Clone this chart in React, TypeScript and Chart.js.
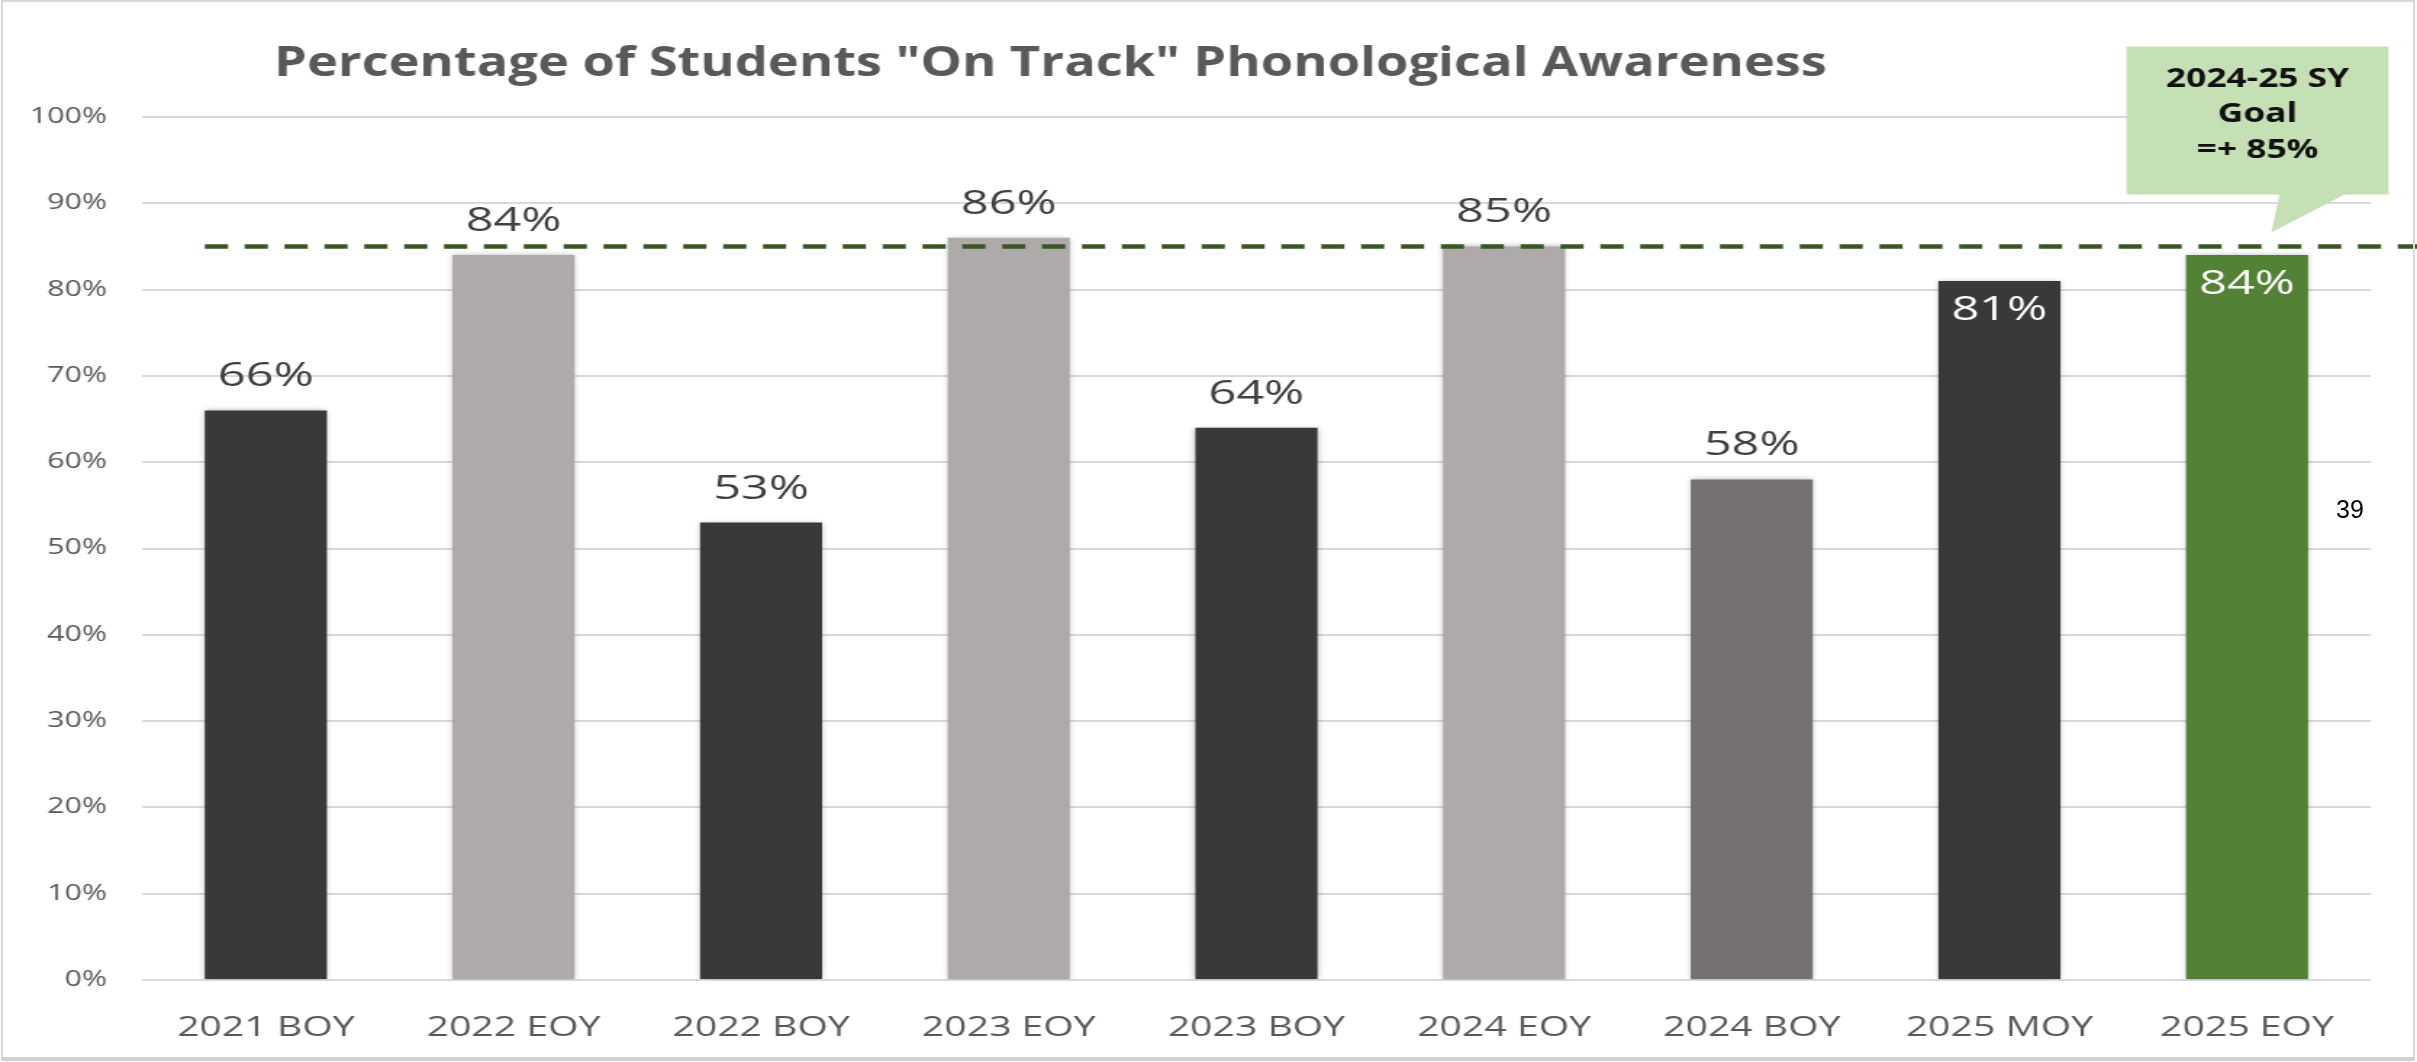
import React, { useEffect, useRef } from 'react';
import { Chart, registerables } from 'chart.js';

Chart.register(...registerables);

// ---------- data ----------
const categories = ['2021 BOY', '2022 EOY', '2022 BOY', '2023 EOY', '2023 BOY', '2024 EOY', '2024 BOY', '2025 MOY', '2025 EOY'];
const values = [66, 84, 53, 86, 64, 85, 58, 81, 84];
const barColors = ['#3B3838', '#AEAAAA', '#3B3838', '#AEAAAA', '#3B3838', '#AEAAAA', '#767171', '#3B3838', '#538135'];
const labelInside = [false, false, false, false, false, false, false, true, true];
const yTickValues = [0, 10, 20, 30, 40, 50, 60, 70, 80, 90, 100];
const goalValue = 85;
const titleText = 'Percentage of Students "On Track" Phonological Awareness';
const calloutLines = ['2024-25 SY', 'Goal', '=+ 85%'];
const pageNumber = '39';

// ---------- layout ----------
const FULL_W = 2417;
const FULL_H = 1062;
const STRETCH = 1.45;
const CANVAS_W = Math.round(FULL_W / STRETCH);
const sx = (fx: number) => fx / STRETCH;
const FONT = '"Open Sans", "DejaVu Sans", sans-serif';

const PLOT_LEFT = sx(142);
const PLOT_RIGHT = sx(2371);
const PLOT_TOP = 117;
const PLOT_BOTTOM = 980;

const TITLE_CX = sx(1050.5);
const TITLE_W = sx(1553);
const TITLE_BASE = 76;

const decorPlugin = {
  id: 'decor',
  beforeDatasetsDraw(chart: any) {
    const ctx = chart.ctx;
    ctx.save();
    ctx.shadowColor = 'rgba(0,0,0,0.28)';
    ctx.shadowBlur = 5;
  },
  afterDatasetsDraw(chart: any) {
    const ctx = chart.ctx;
    ctx.restore();
    const xs = chart.scales.x;
    const ys = chart.scales.y;
    const meta = chart.getDatasetMeta(0);
    const gy = ys.getPixelForValue(goalValue);

    // goal dashed line
    const first = meta.data[0].getProps(['x', 'width'], true);
    ctx.save();
    ctx.strokeStyle = '#385723';
    ctx.lineWidth = 4.5;
    ctx.setLineDash([16, 11.5]);
    ctx.beginPath();
    ctx.moveTo(first.x - first.width / 2, gy);
    ctx.lineTo(chart.width, gy);
    ctx.stroke();
    ctx.restore();

    // value labels
    const size = 33.5;
    ctx.save();
    ctx.font = `${size}px ${FONT}`;
    ctx.textAlign = 'center';
    ctx.textBaseline = 'alphabetic';
    meta.data.forEach((bar: any, i: number) => {
      const p = bar.getProps(['x', 'y'], true);
      const capCenter = labelInside[i] ? p.y + 27 : p.y - 36;
      ctx.fillStyle = labelInside[i] ? '#FFFFFF' : '#404040';
      ctx.fillText(values[i] + '%', p.x, capCenter + 0.357 * size);
    });
    ctx.restore();

    // callout
    const c = xs.getPixelForValue(categories.length - 1);
    const left = c - 83.1;
    const right = c + 97.6;
    const top = gy - 200;
    const bottom = gy - 52;
    ctx.save();
    ctx.fillStyle = '#C5E0B4';
    ctx.beginPath();
    ctx.moveTo(left, top);
    ctx.lineTo(right, top);
    ctx.lineTo(right, bottom);
    ctx.lineTo(c + 67.2, bottom);
    ctx.lineTo(c + 16.7, gy - 14);
    ctx.lineTo(c + 22.4, bottom);
    ctx.lineTo(left, bottom);
    ctx.closePath();
    ctx.fill();
    const csize = 26.5;
    ctx.font = `bold ${csize}px ${FONT}`;
    ctx.fillStyle = '#111111';
    ctx.textAlign = 'center';
    ctx.textBaseline = 'alphabetic';
    const cx = (left + right) / 2;
    const capCenters = [top + 31, top + 66, top + 102];
    calloutLines.forEach((line, i) => {
      ctx.save();
      ctx.translate(cx, capCenters[i] + 0.357 * csize);
      ctx.scale(0.92, 1);
      ctx.fillText(line, 0, 0);
      ctx.restore();
    });
    ctx.restore();

    // title
    ctx.save();
    ctx.font = `bold 41px ${FONT}`;
    const w = ctx.measureText(titleText).width;
    ctx.translate(TITLE_CX, TITLE_BASE);
    ctx.scale(TITLE_W / w, 1);
    ctx.textAlign = 'center';
    ctx.textBaseline = 'alphabetic';
    ctx.fillStyle = '#595959';
    ctx.fillText(titleText, 0, 0);
    ctx.restore();
  },
};

export default function App() {
  const ref = useRef<HTMLCanvasElement>(null);

  useEffect(() => {
    const canvas = ref.current!;
    const chart = new Chart(canvas, {
      type: 'bar',
      data: {
        labels: categories,
        datasets: [
          {
            data: values,
            backgroundColor: barColors,
            borderWidth: 0,
            barPercentage: 0.493,
            categoryPercentage: 1,
          },
        ],
      },
      options: {
        responsive: false,
        animation: false,
        devicePixelRatio: 1,
        layout: { padding: { left: 0, right: CANVAS_W - PLOT_RIGHT, top: PLOT_TOP, bottom: 0 } },
        plugins: {
          legend: { display: false },
          tooltip: { enabled: false },
          title: { display: false },
        },
        scales: {
          x: {
            grid: { display: false },
            border: { display: false },
            ticks: {
              color: '#595959',
              font: { family: FONT, size: 27 },
              padding: 24,
              maxRotation: 0,
              autoSkip: false,
            },
            afterFit: (s: any) => {
              s.height = FULL_H - PLOT_BOTTOM;
            },
          },
          y: {
            min: 0,
            max: 100,
            grid: { color: '#D9D9D9', lineWidth: 2, drawTicks: false },
            border: { display: false },
            ticks: {
              color: '#595959',
              font: { family: FONT, size: 21 },
              padding: 24,
              callback: (v: any) => v + '%',
            },
            afterBuildTicks: (s: any) => {
              s.ticks = yTickValues.map((v) => ({ value: v }));
            },
            afterFit: (s: any) => {
              s.width = PLOT_LEFT;
            },
          },
        },
      } as any,
      plugins: [decorPlugin],
    });
    return () => chart.destroy();
  }, []);

  return (
    <div style={{ position: 'absolute', left: 0, top: 0, width: FULL_W, height: FULL_H, background: '#FFFFFF', overflow: 'hidden' }}>
      <canvas
        ref={ref}
        width={CANVAS_W}
        height={FULL_H}
        style={{ display: 'block', width: FULL_W + 'px', height: FULL_H + 'px' }}
      />
      <div
        style={{
          position: 'absolute',
          left: 1,
          top: 0,
          width: 2414,
          height: 1061,
          boxSizing: 'border-box',
          border: '2px solid #D9D9D9',
          borderBottom: '4px solid #D0D0D0',
          pointerEvents: 'none',
        }}
      />
      <div
        style={{
          position: 'absolute',
          left: 2336,
          top: 497,
          fontFamily: '"Liberation Sans", Arial, sans-serif',
          fontSize: 25,
          lineHeight: '25px',
          color: '#000000',
        }}
      >
        {pageNumber}
      </div>
    </div>
  );
}
